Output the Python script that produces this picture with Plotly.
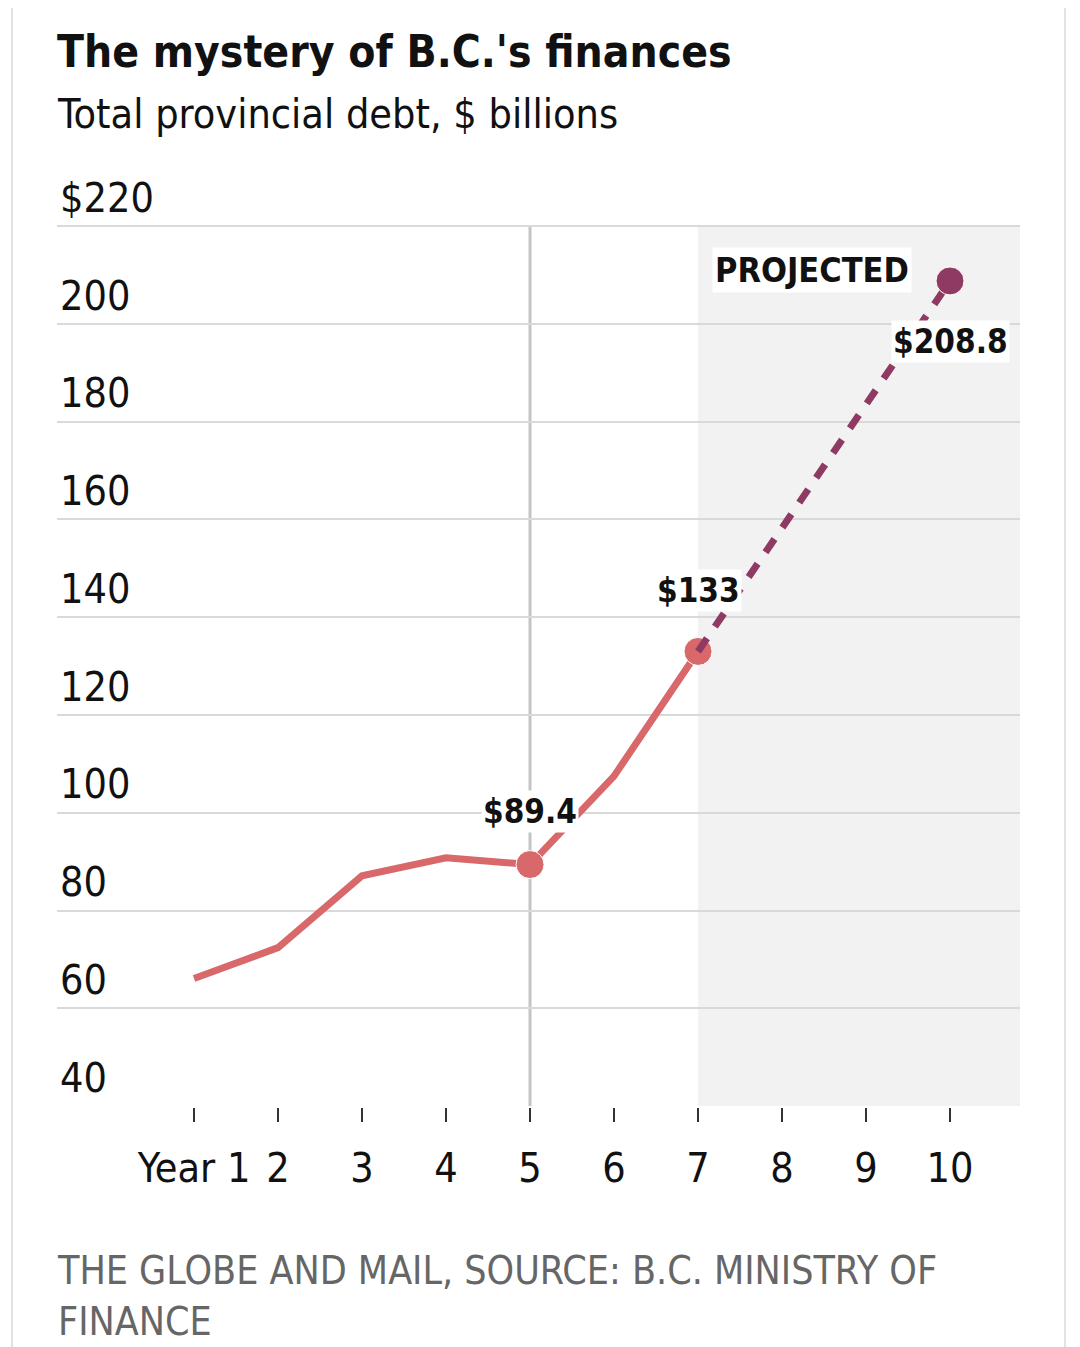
import plotly.graph_objects as go

# actual debt, years 1-7
years = [1, 2, 3, 4, 5, 6, 7]
debt = [66.1, 72.4, 87.1, 90.8, 89.4, 107.5, 133]

# projection
proj_years = [7, 10]
proj_debt = [133, 208.8]

y_ticks = [40, 60, 80, 100, 120, 140, 160, 180, 200, 220]
y_labels = ["40", "60", "80", "100", "120", "140", "160", "180", "200", "$220"]
x_ticks = [1, 2, 3, 4, 5, 6, 7, 8, 9, 10]
x_labels = ["Year 1", "2", "3", "4", "5", "6", "7", "8", "9", "10"]

FONT = "DejaVu Sans Condensed, DejaVu Sans, sans-serif"
INK = "#111111"
RED = "#d9686b"
PLUM = "#8e3a63"

fig = go.Figure()

fig.add_trace(go.Scatter(
    x=years, y=debt, mode="lines+markers",
    line=dict(color=RED, width=7),
    marker=dict(color=RED, size=[0, 0, 0, 0, 28, 0, 28], opacity=1),
    hoverinfo="skip",
))
fig.add_trace(go.Scatter(
    x=proj_years, y=proj_debt, mode="lines+markers",
    line=dict(color=PLUM, width=7, dash="16px,14px"),
    marker=dict(color=PLUM, size=[0, 28], opacity=1),
    hoverinfo="skip",
))

# shaded projection zone and year-5 marker line
fig.add_shape(type="rect", xref="x", yref="y", x0=7, x1=10.833, y0=40, y1=220,
              fillcolor="#f2f2f2", line_width=0, layer="below")
fig.add_shape(type="line", xref="x", yref="y", x0=5, x1=5, y0=40, y1=220,
              line=dict(color="#c4c4c4", width=3), layer="below")

# page border lines
for xp in [-0.0467, 1.0467]:
    fig.add_shape(type="line", xref="paper", yref="paper", x0=xp, x1=xp,
                  y0=-0.3, y1=1.3, line=dict(color="#e2e2e2", width=2))

lab_font = dict(family=FONT, size=33, color=INK, weight="bold")
fig.add_annotation(x=years[4], y=debt[4], text="$89.4", showarrow=False, yshift=53,
                   bgcolor="white", borderpad=1, font=lab_font)
fig.add_annotation(x=years[6], y=debt[6], text="$133", showarrow=False, yshift=61,
                   bgcolor="white", borderpad=1, font=lab_font)
fig.add_annotation(x=proj_years[1], y=proj_debt[1], text="$208.8", showarrow=False,
                   yshift=-61, bgcolor="white", borderpad=1, font=lab_font)
fig.add_annotation(x=8.357, y=211, text="PROJECTED", showarrow=False,
                   bgcolor="white", borderpad=2,
                   font=dict(family=FONT, size=34, color=INK, weight="bold"))

fig.add_annotation(xref="paper", yref="paper", x=-0.002, y=1.1011, xanchor="left",
                   yanchor="middle", showarrow=False,
                   text="<b>The mystery of B.C.'s finances</b>",
                   font=dict(family=FONT, size=44, color=INK))
fig.add_annotation(xref="paper", yref="paper", x=-0.002, y=1.0355, xanchor="left",
                   yanchor="middle", showarrow=False,
                   text="Total provincial debt, $ billions",
                   font=dict(family=FONT, size=41, color=INK))
fig.add_annotation(xref="paper", yref="paper", x=-0.002, y=-0.1971, xanchor="left",
                   yanchor="middle", showarrow=False, align="left",
                   text="THE GLOBE AND MAIL, SOURCE: B.C. MINISTRY OF<br>FINANCE",
                   font=dict(family=FONT, size=39, color="#666666"))

fig.update_layout(
    width=1080, height=1347,
    margin=dict(l=49, r=68, t=140, b=248),
    paper_bgcolor="white", plot_bgcolor="white",
    showlegend=False,
    font=dict(family=FONT, color=INK),
    xaxis=dict(
        range=[-0.631, 10.833], tickvals=x_ticks, ticktext=x_labels,
        ticks="outside", ticklen=14, tickwidth=2, tickcolor="#333333",
        showgrid=False, zeroline=False, showline=False,
        tickfont=dict(size=41, family=FONT, color=INK), ticklabelstandoff=11,
    ),
    yaxis=dict(
        range=[39.8, 236], tickvals=y_ticks, ticktext=y_labels,
        ticklabelposition="inside top", ticks="",
        showgrid=True, gridcolor="#d9d9d9", gridwidth=2,
        zeroline=False, showline=False,
        tickfont=dict(size=41, family=FONT, color=INK),
    ),
)

fig.write_html("out.html")
